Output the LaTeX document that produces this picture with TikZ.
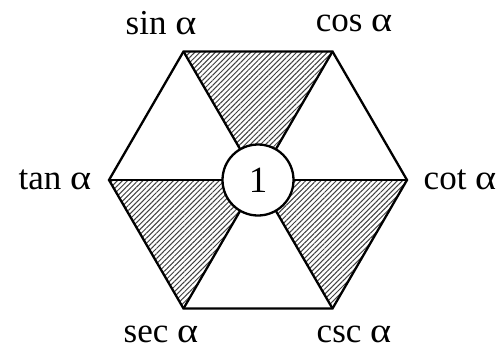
\documentclass[tikz,border=0pt]{standalone}
\usepackage{fontspec}
\setmainfont{Liberation Serif}
\usetikzlibrary{patterns.meta}
\newcommand{\alf}{\scalebox{1.15}[1]{α}}
\begin{document}
\begin{tikzpicture}[x=1pt,y=-1pt,
  edge/.style={line width=2.3pt, line join=miter},
  hatch/.style={pattern={Lines[angle=45,distance=3.6pt,line width=1pt]}, pattern color=black!75},
  lbl/.style={font=\fontsize{35}{40}\selectfont, inner sep=0pt}]
\useasboundingbox (0,0) rectangle (502,349);
\coordinate (C) at (258,180);
\coordinate (TL) at (183.5,51.5);
\coordinate (TR) at (332.5,51.5);
\coordinate (R) at (407,180);
\coordinate (BR) at (332.5,308.5);
\coordinate (BL) at (183.5,308.5);
\coordinate (L) at (109,180);
\fill[hatch] (TL) -- (TR) -- (C) -- cycle;
\fill[hatch] (L) -- (BL) -- (C) -- cycle;
\fill[hatch] (R) -- (BR) -- (C) -- cycle;
\draw[edge] (TL) -- (TR) -- (R) -- (BR) -- (BL) -- (L) -- cycle;
\draw[edge] (TL) -- (BR);
\draw[edge] (TR) -- (BL);
\draw[edge] (L) -- (R);
\node[circle, draw, line width=2.3pt, fill=white, minimum size=71pt, inner sep=0pt, font=\fontsize{37}{40}\selectfont] (one) at (C) {1};
\node[lbl] (sin) at (161,23) {sin \alf};
\node[lbl] (cos) at (354,23) {cos \alf};
\node[lbl] (tan) at (55,180) {tan \alf};
\node[lbl] (cot) at (460,180) {cot \alf};
\node[lbl] (sec) at (161,334) {sec \alf};
\node[lbl] (csc) at (354,334) {csc \alf};
\end{tikzpicture}
\end{document}
